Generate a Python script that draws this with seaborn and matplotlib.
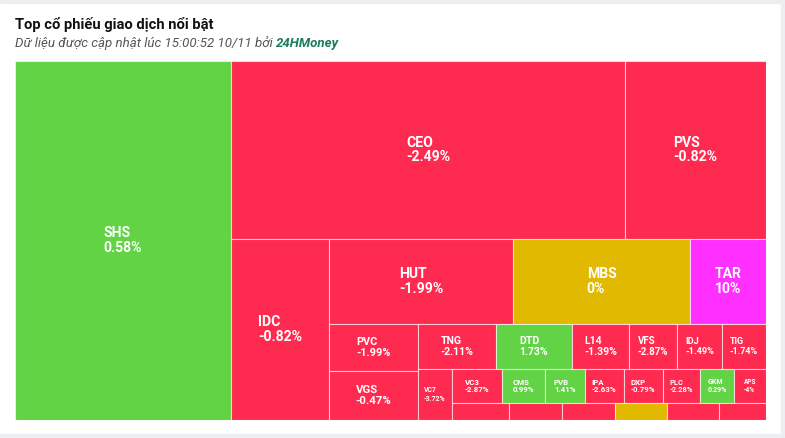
import numpy as np
import matplotlib
matplotlib.use("Agg")
import matplotlib.pyplot as plt
from matplotlib.patches import Rectangle
import seaborn as sns

# ---------------- data ----------------
tickers = ["SHS", "CEO", "PVS", "IDC", "HUT", "MBS", "TAR", "PVC", "VGS",
           "TNG", "DTD", "L14", "VFS", "IDJ", "TIG", "VC7", "VC3", "CMS",
           "PVB", "IPA", "DXP", "PLC", "GKM", "APS", "", "", "", "", "", ""]
trade_value = [775.4, 701.3, 251.0, 177.4, 156.7, 150.2, 64.6, 41.8, 43.6,
               35.1, 34.2, 25.7, 21.6, 20.3, 19.8, 17.3, 17.0, 14.6,
               13.6, 13.3, 13.3, 12.6, 11.6, 10.9, 9.7, 9.0, 9.0, 8.8, 8.8, 8.0]
pct_change = [0.58, -2.49, -0.82, -0.82, -1.99, 0.0, 10.0, -1.99, -0.47,
              -2.11, 1.73, -1.39, -2.87, -1.49, -1.74, -3.72, -2.87, 0.99,
              1.41, -2.63, -0.79, -2.28, 0.29, -4.0, -1.0, -1.0, -1.0, 0.0, -1.0, -1.0]

title_text = "Top cổ phiếu giao dịch nổi bật"
subtitle_text = "Dữ liệu được cập nhật lúc 15:00:52 10/11 bởi "
source_text = "24HMoney"

# ---------------- style ----------------
sns.set_theme(style="white")
plt.rcParams["font.family"] = ["Roboto", "DejaVu Sans"]

C_UP = "#62d345"
C_DOWN = "#ff2a50"
C_REF = "#e0b900"
C_CEIL = "#ff30ff"
PAGE_BG = "#eceef1"


def color_for(c):
    if c >= 9.9:
        return C_CEIL
    if c > 0:
        return C_UP
    if c < 0:
        return C_DOWN
    return C_REF


def fmt_pct(c):
    s = f"{c:.2f}".rstrip("0").rstrip(".")
    return s + "%"


# ------------- squarified layout (alternating direction) -------------
class Group:
    def __init__(self, h, w, d):
        self.height, self.width, self.direction = h, w, d
        self.total = 0.0
        self.nW = self.lW = self.nH = self.lH = 0.0
        self.el = []
        self.nR = self.lR = 0.0

    def add(self, a):
        last = self.el[-1] if self.el else None
        self.total += a
        ar = lambda p, q: max(p / q, q / p)
        if self.direction == 0:
            self.lW = self.nW
            self.nW = self.total / self.height
            if last is None:
                self.nR = self.lR = 0.0
            else:
                self.lR = ar(self.lW, last / self.lW)
                self.nR = ar(self.nW, last / self.nW)
        else:
            self.lH = self.nH
            self.nH = self.total / self.width
            if last is None:
                self.nR = self.lR = 0.0
            else:
                self.lR = ar(last / self.lH, self.lH)
                self.nR = ar(last / self.nH, self.nH)
        self.el.append(a)

    def reset(self):
        self.nW = self.lW = 0.0
        self.el = []
        self.total = 0.0


def layout(values, W, H):
    tot = float(sum(values))
    areas = [W * H * v / tot for v in values]
    out = []
    plot = {"x": 0.0, "y": 0.0}
    g = Group(H, W, 0)

    def calc(last):
        n = len(g.el) - 1
        if last:
            gW, gH, keep = g.nW, g.nH, None
        else:
            gW, gH, keep = g.lW, g.lH, g.el[n]
        for i, p in enumerate(g.el):
            if last or i < n:
                if g.direction == 0:
                    pw, ph = gW, p / gW
                else:
                    ph, pw = gH, p / gH
                out.append((plot["x"], plot["y"], pw, ph))
                if g.direction == 0:
                    plot["y"] += ph
                else:
                    plot["x"] += pw
        g.reset()
        if g.direction == 0:
            g.width -= gW
        else:
            g.height -= gH
        plot["y"] = H - g.height
        plot["x"] = W - g.width
        g.direction = 1 - g.direction
        if not last:
            g.add(keep)

    for i, a in enumerate(areas):
        g.add(a)
        if g.nR > g.lR:
            calc(False)
        if i == len(areas) - 1:
            calc(True)
    return out


# ---------------- figure ----------------
FW, FH = 785, 438
fig = plt.figure(figsize=(FW / 100, FH / 100), dpi=100, facecolor="white")

# page background bands around the card
fig.patches.append(Rectangle((0, 1 - 3 / FH), 1, 3 / FH, transform=fig.transFigure,
                             color=PAGE_BG, zorder=0))
fig.patches.append(Rectangle((781 / FW, 0), 1, 1, transform=fig.transFigure,
                             color=PAGE_BG, zorder=0))
fig.patches.append(Rectangle((0, 0), 1, 4 / FH, transform=fig.transFigure,
                             color=PAGE_BG, zorder=0))

ax_l, ax_b, ax_w, ax_h = 15 / FW, (FH - 420) / FH, 751 / FW, 359 / FH
ax = fig.add_axes([ax_l, ax_b, ax_w, ax_h])
W, H = ax_w * FW, ax_h * FH
ax.set_xlim(0, W)
ax.set_ylim(H, 0)
ax.axis("off")

rects = layout(trade_value, W, H)
px2pt = 72 / 100
for (x, y, w, h), name, chg in zip(rects, tickers, pct_change):
    ax.add_patch(Rectangle((x, y), w, h, facecolor=color_for(chg),
                           edgecolor=(1, 1, 1, 0.6), linewidth=0.8))
    if name and h >= 25 and w >= 25:
        lines = [name, fmt_pct(chg)]
        fs = min(14.0, h / 4.3, w / 4.9)
        ax.text(x + w / 2, y + h / 2, "\n".join(lines), ha="center", va="center",
                multialignment="left", color="white", fontweight="bold",
                fontsize=fs * px2pt, linespacing=1.05)

# ---------------- titles ----------------
fig.text(15 / FW, 1 - 25 / FH, title_text, ha="left", va="center",
         fontsize=14.8 * px2pt, fontweight="bold", color="#111111")
t1 = fig.text(15 / FW, 1 - 47 / FH, subtitle_text, ha="left", va="baseline",
              fontsize=13.3 * px2pt, fontstyle="italic", color="#555555")
ax.annotate(source_text, xy=(1, 0), xycoords=t1, ha="left", va="bottom",
            fontsize=13.3 * px2pt, fontstyle="italic", fontweight="bold",
            color="#1f7a5e", annotation_clip=False)

fig.savefig("out.png", dpi=100, facecolor="white")
